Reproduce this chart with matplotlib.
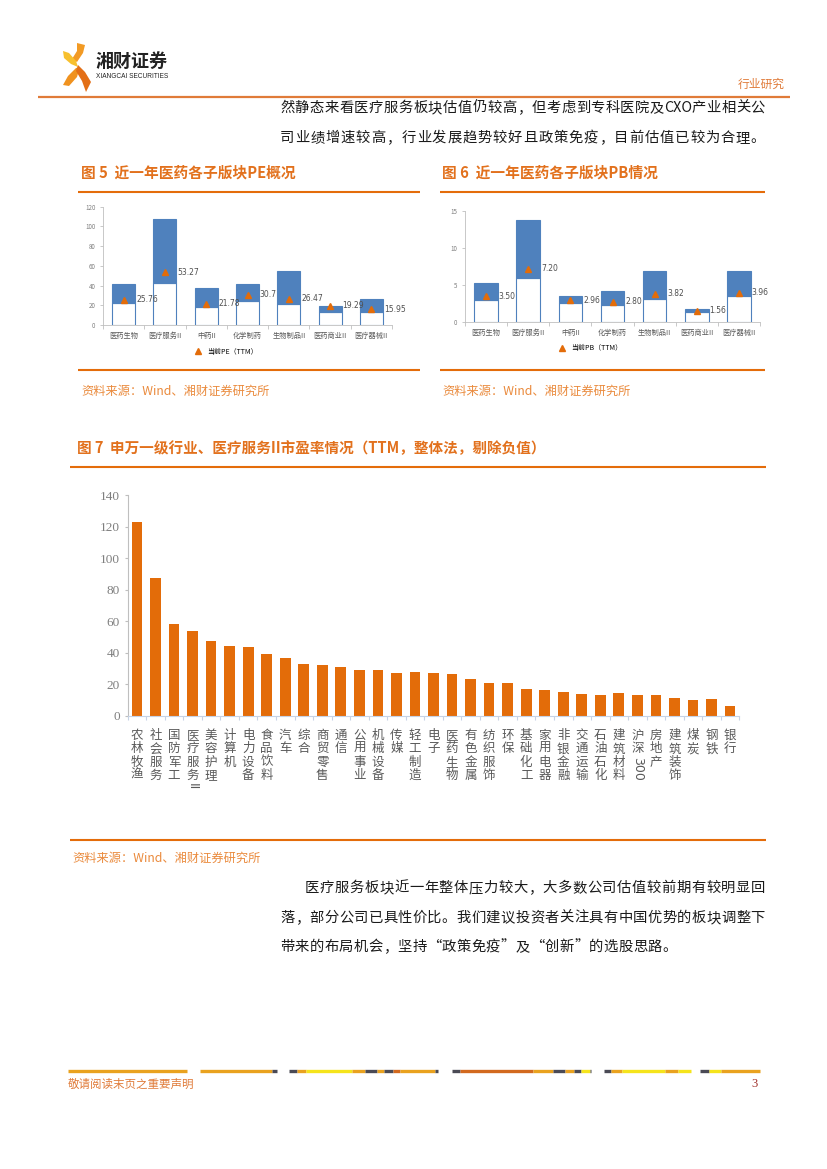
import numpy as np
import matplotlib.pyplot as plt
from matplotlib import transforms
from matplotlib.lines import Line2D
from matplotlib.patches import Polygon

plt.rcParams['font.family'] = ['Noto Sans CJK SC', 'DejaVu Sans']

W, H = 827, 1169

# ---- data: sub-sector PE (one year range + current)
pe_cats = ['医药生物', '医疗服务II', '中药II', '化学制药', '生物制品II', '医药商业II', '医疗器械II']
pe_low = [22.3, 42.3, 18.3, 24.3, 21.3, 13.3, 13.3]
pe_high = [42, 108, 38, 42, 55, 19, 26]
pe_now = [25.76, 53.27, 21.78, 30.7, 26.47, 19.29, 15.95]

# ---- data: sub-sector PB
pb_cats = ['医药生物', '医疗服务II', '中药II', '化学制药', '生物制品II', '医药商业II', '医疗器械II']
pb_low = [3.03, 5.92, 2.57, 2.39, 3.2, 1.44, 3.61]
pb_high = [5.33, 13.75, 3.57, 4.25, 6.96, 1.8, 6.96]
pb_now = [3.50, 7.20, 2.96, 2.80, 3.82, 1.56, 3.96]

# ---- data: SW level-1 industries PE (TTM)
ind_names = ['农林牧渔', '社会服务', '国防军工', '医疗服务II', '美容护理', '计算机', '电力设备',
             '食品饮料', '汽车', '综合', '商贸零售', '通信', '公用事业', '机械设备', '传媒',
             '轻工制造', '电子', '医药生物', '有色金属', '纺织服饰', '环保', '基础化工',
             '家用电器', '非银金融', '交通运输', '石油石化', '建筑材料', '沪深300', '房地产',
             '建筑装饰', '煤炭', '钢铁', '银行']
ind_pe = [123.1, 87.2, 58.0, 53.7, 47.4, 44.2, 43.8, 39.4, 36.4, 33.0, 32.2, 30.9, 28.8,
          28.8, 27.1, 27.5, 27.3, 26.3, 23.3, 20.6, 20.8, 16.8, 16.3, 14.8, 14.0, 12.9,
          14.4, 13.3, 13.1, 11.2, 10.0, 10.4, 6.2]

ORANGE = '#E46C0A'
TITLE = '#E2711D'
SRC = '#EA8A3C'
BLUE = '#4F81BD'
TXT = '#1a1a1a'


def fy(y):
    return 1 - y / H


def fx(x):
    return x / W


def hline(fig, x0, x1, y, color, lw):
    fig.add_artist(Line2D([fx(x0), fx(x1)], [fy(y), fy(y)], transform=fig.transFigure,
                          color=color, lw=lw, solid_capstyle='butt'))


def add_ax(fig, left, right, bottom, top):
    return fig.add_axes([fx(left), fy(bottom), (right - left) / W, (bottom - top) / H])


def body_line(fig, text, x0, y, x1=None, size=10.3, step=14.7):
    """place characters one by one; justified between x0 and x1 if x1 given"""
    toks = []
    k = 0
    while k < len(text):
        if text[k].isascii():
            j = k
            while j < len(text) and text[j].isascii():
                j += 1
            toks.append((text[k:j], 0.62 * (j - k)))
            k = j
        else:
            toks.append((text[k], 1.0))
            k += 1
    em = size * 100 / 72
    total = sum(w for _, w in toks) * em
    if x1 is None:
        gap = step - em
    else:
        gap = ((x1 - x0) - total) / max(len(toks) - 1, 1)
    x = x0
    for t, w in toks:
        fig.text(fx(x + w * em / 2), fy(y), t, fontsize=size, color=TXT, va='center', ha='center')
        x += w * em + gap


def range_chart(ax, cats, low, high, now, ymax, yticks, fmt, legend_label):
    x = np.arange(len(cats))
    ax.bar(x, low, width=0.56, color='white', edgecolor=BLUE, lw=0.8)
    ax.bar(x, np.array(high) - np.array(low), bottom=low, width=0.56, color=BLUE, edgecolor=BLUE, lw=0.8)
    ax.plot(x, now, '^', color='#E36C09', ms=5, ls='none', label=legend_label)
    for i, v in enumerate(now):
        ax.text(i + 0.3, v, fmt(v), fontsize=5.5, color='#505050', va='center', ha='left',
                family=['DejaVu Sans'])
    ax.set_xlim(-0.5, len(cats) - 0.5)
    ax.set_ylim(0, ymax)
    ax.set_yticks(yticks)
    ax.set_xticks(x)
    ax.set_xticklabels(cats, fontsize=5.2, color='#595959')
    ax.set_xticks(np.arange(-0.5, len(cats)), minor=True)
    ax.tick_params(axis='x', which='major', length=0, pad=5)
    ax.tick_params(axis='x', which='minor', length=3, color='#bfbfbf', width=0.6)
    ax.tick_params(axis='y', labelsize=4.5, labelcolor='#7f7f7f', length=2, color='#bfbfbf', width=0.6)
    for s in ['top', 'right']:
        ax.spines[s].set_visible(False)
    for s in ['left', 'bottom']:
        ax.spines[s].set_color('#bfbfbf')
        ax.spines[s].set_linewidth(0.6)
    ax.legend(loc='upper center', bbox_to_anchor=(0.42, -0.14), frameon=False, fontsize=5,
              handletextpad=0.3, markerscale=0.9)


fig = plt.figure(figsize=(W / 100, H / 100), dpi=100)

# ---- header logo
logo = [
    ([(77, 43), (85, 45), (83, 53), (77, 62), (72, 59), (77, 51)], '#F29A24'),
    ([(63, 51), (69, 53), (76, 61), (78, 67), (71, 64), (64, 58)], '#F7C02E'),
    ([(63, 85), (68, 76), (76, 68), (80, 67), (77, 77), (69, 86)], '#F0921F'),
    ([(78, 65), (85, 72), (91, 82), (86, 92), (82, 81), (76, 71)], '#E36F17'),
]
for pts, col in logo:
    fig.add_artist(Polygon([(fx(a), fy(b)) for a, b in pts], closed=True,
                           transform=fig.transFigure, color=col, lw=0))
fig.text(fx(96), fy(61), '湘财证券', fontsize=13, weight='bold', color='#222222', va='center')
fig.text(fx(96), fy(76), 'XIANGCAI SECURITIES', fontsize=4.7, color='#222222', va='center',
         family=['Liberation Sans'])
fig.text(fx(785), fy(84), '行业研究', fontsize=8.5, color='#E07B39', va='center', ha='right')
hline(fig, 38, 790, 97, '#E07B39', 1.6)

# ---- body text top
body_line(fig, '然静态来看医疗服务板块估值仍较高，但考虑到专科医院及CXO产业相关公', 280, 108, 765)
body_line(fig, '司业绩增速较高，行业发展趋势较好且政策免疫，目前估值已较为合理。', 280, 138, 765)

# ---- figure 5 / 6
fig.text(fx(81), fy(173), '图 5  近一年医药各子版块PE概况', fontsize=10.6, weight='bold', color=TITLE, va='center')
fig.text(fx(442), fy(173), '图 6  近一年医药各子版块PB情况', fontsize=10.6, weight='bold', color=TITLE, va='center')
hline(fig, 78, 420, 192, ORANGE, 1.5)
hline(fig, 440, 765, 192, ORANGE, 1.5)
hline(fig, 78, 420, 370, ORANGE, 1.5)
hline(fig, 440, 765, 370, ORANGE, 1.5)

ax5 = add_ax(fig, 103, 392, 325, 206.7)
range_chart(ax5, pe_cats, pe_low, pe_high, pe_now, 120, np.arange(0, 121, 20), str, '当前PE（TTM）')
ax6 = add_ax(fig, 465, 760, 322.3, 211)
range_chart(ax6, pb_cats, pb_low, pb_high, pb_now, 15, [0, 5, 10, 15], lambda v: '%.2f' % v,
            '当前PB（TTM）')

fig.text(fx(81), fy(391), '资料来源：Wind、湘财证券研究所', fontsize=8.8, color=SRC, va='center')
fig.text(fx(442), fy(391), '资料来源：Wind、湘财证券研究所', fontsize=8.8, color=SRC, va='center')

# ---- figure 7
fig.text(fx(77), fy(448), '图 7  申万一级行业、医疗服务II市盈率情况（TTM，整体法，剔除负值）',
         fontsize=10.5, weight='bold', color=TITLE, va='center')
hline(fig, 70, 766, 467, ORANGE, 1.5)
hline(fig, 70, 766, 840, ORANGE, 1.5)

ax7 = add_ax(fig, 127.7, 739.3, 715.7, 495)
xi = np.arange(len(ind_names))
ax7.bar(xi, ind_pe, width=0.58, color='#E36C09')
ax7.set_xlim(-0.5, len(ind_names) - 0.5)
ax7.set_ylim(0, 140)
ax7.set_yticks(np.arange(0, 141, 20))
ax7.set_xticks(np.arange(-0.5, len(ind_names)))
ax7.set_xticklabels([])
ax7.tick_params(axis='x', length=3, color='#c6d3e6', width=0.8)
ax7.tick_params(axis='y', length=2.5, color='#bfbfbf', width=0.8, pad=3)
for lab in ax7.get_yticklabels():
    lab.set_family(['Liberation Serif'])
    lab.set_fontsize(9.5)
    lab.set_color('#7f7f7f')
for s in ['top', 'right']:
    ax7.spines[s].set_visible(False)
ax7.spines['left'].set_color('#bfbfbf')
ax7.spines['bottom'].set_color('#c6d3e6')

tr = transforms.blended_transform_factory(ax7.transData, fig.transFigure)
step = 13.3
for i, name in enumerate(ind_names):
    y = 729.0
    k = 0
    while k < len(name):
        if name[k].isascii():
            j = k
            while j < len(name) and name[j].isascii():
                j += 1
            tok = name[k:j]
            ax7.text(i, fy(y + 1), tok, transform=tr, rotation=-90, fontsize=9, color='#595959',
                     ha='center', va='top', family=['DejaVu Sans'])
            y += len(tok) * 7.3
            k = j
        else:
            ax7.text(i, fy(y), name[k], transform=tr, fontsize=9, color='#595959',
                     ha='center', va='top')
            y += step
            k += 1

fig.text(fx(72), fy(858), '资料来源：Wind、湘财证券研究所', fontsize=8.8, color=SRC, va='center')

# ---- body text bottom
body_line(fig, '医疗服务板块近一年整体压力较大，大多数公司估值较前期有较明显回', 305, 888, 765)
body_line(fig, '落，部分公司已具性价比。我们建议投资者关注具有中国优势的板块调整下', 280, 918, 765)
body_line(fig, '带来的布局机会，坚持“政策免疫”及“创新”的选股思路。', 280, 947)

# ---- footer decoration
G, Y, D, R = '#E9A21F', '#F5E41C', '#4A4A55', '#D2691E'
segs = [(20, 280, G), (308, 465, G), (465, 475, D),
        (503, 520, D), (520, 540, G), (540, 640, Y), (640, 668, G), (668, 695, D),
        (695, 710, G), (710, 730, D), (730, 745, R), (745, 820, G), (820, 828, D),
        (857, 875, D), (875, 1035, R), (1035, 1078, G), (1078, 1105, D), (1105, 1125, G),
        (1125, 1140, D), (1140, 1158, Y), (1158, 1162, D),
        (1190, 1205, D), (1205, 1228, G), (1228, 1322, Y), (1322, 1350, G), (1350, 1380, Y),
        (1398, 1418, D), (1418, 1445, Y), (1445, 1530, G)]
for a, b, c in segs:
    x0 = 68 + (a - 20) * (760 - 68) / 1510
    x1 = 68 + (b - 20) * (760 - 68) / 1510
    hline(fig, x0, x1, 1071, c, 2.4)
fig.text(fx(68), fy(1084), '敬请阅读末页之重要声明', fontsize=8.3, color='#E07B39', va='center')
fig.text(fx(758), fy(1084), '3', fontsize=9, color='#A0302A', va='center', ha='right',
         family=['Liberation Serif'])

fig.savefig('out.png', dpi=100)
